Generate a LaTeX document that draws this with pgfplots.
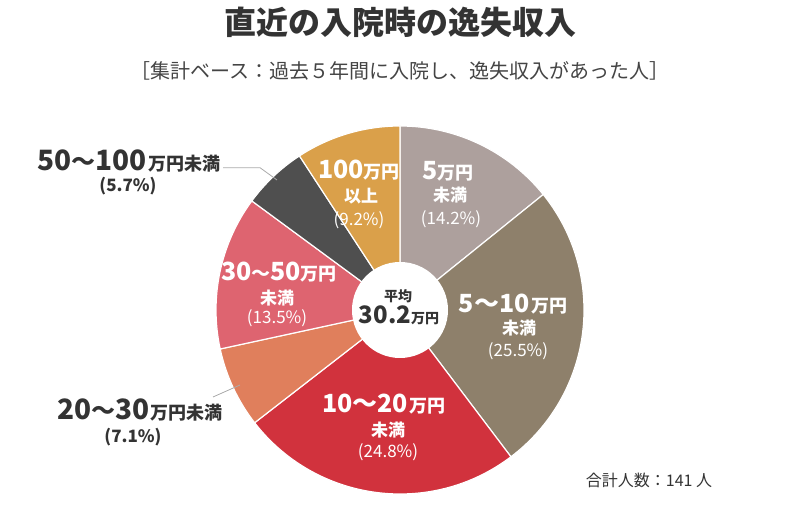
\documentclass[border=0pt]{standalone}
\usepackage{pgfplots}
\pgfplotsset{compat=1.18}
\usepackage{pgfplotstable}
\usepackage{fontspec}
\setmainfont{Noto Sans CJK JP}

\definecolor{pie0}{HTML}{ADA09D}
\definecolor{pie1}{HTML}{8E806B}
\definecolor{pie2}{HTML}{D1323D}
\definecolor{pie3}{HTML}{E07F5C}
\definecolor{pie4}{HTML}{DE6470}
\definecolor{pie5}{HTML}{4F4F4F}
\definecolor{pie6}{HTML}{DAA04A}
\definecolor{txt}{HTML}{333333}
\definecolor{subtxt}{HTML}{444444}
\definecolor{leader}{HTML}{AAAAAA}

\newcommand\fs[2]{{\fontsize{#1}{#1}\selectfont #2}}
\tikzset{lab/.style={inner sep=0pt, anchor=center}}

% share of each income class, clockwise from the top
\pgfplotstableread{
pct
14.2
25.5
24.8
7.1
13.5
5.7
9.2
}\piedata

% start/end angles of the slices
\def\acc{90}
\expandafter\xdef\csname pa0\endcsname{90}
\foreach \i in {0,...,6}{%
  \pgfplotstablegetelem{\i}{pct}\of\piedata
  \pgfmathsetmacro\nx{\acc-3.6*\pgfplotsretval}%
  \pgfmathtruncatemacro\j{\i+1}%
  \expandafter\xdef\csname pa\j\endcsname{\nx}%
  \xdef\acc{\nx}%
}
\newcommand\pa[1]{\csname pa#1\endcsname}

\begin{document}
\begin{tikzpicture}
\begin{axis}[
  hide axis,
  scale only axis,
  width=800pt, height=510pt,
  xmin=0, xmax=800, ymin=0, ymax=510,
  clip=false,
]
\path (axis cs:0,0) rectangle (axis cs:800,510);

\pgfplotsinvokeforeach{0,...,6}{
  \fill[fill=pie#1, draw=white, line width=1.2pt]
    (axis cs:400,200) -- ++(\pa{#1}:184pt)
    arc[start angle=\pa{#1}, end angle=\csname pa\the\numexpr#1+1\relax\endcsname, radius=184pt] -- cycle;
}
\fill[white] (axis cs:400,200) circle[radius=48pt];

% title
\node[lab, txt] at (axis cs:400,488) {\bfseries\fs{32}{直近の入院時の逸失収入}};
\node[lab, subtxt] at (axis cs:400,439) {\fs{20}{［集計ベース：過去５年間に入院し、逸失収入があった人］}};

% inside labels
\node[lab, white] at (axis cs:448,339) {\bfseries\fs{25}{5}\fs{18}{万円}};
\node[lab, white] at (axis cs:450,315) {\bfseries\fs{17}{未満}};
\node[lab, white] at (axis cs:451,291) {\fs{17}{(14.2\%)}};

\node[lab, white] at (axis cs:359,340) {\bfseries\fs{25}{100}\fs{18}{万円}};
\node[lab, white] at (axis cs:361,314) {\bfseries\fs{17}{以上}};
\node[lab, white] at (axis cs:359,290) {\fs{17}{(9.2\%)}};

\node[lab, white] at (axis cs:513,206) {\bfseries\fs{25}{5～10}\,\fs{18}{万円}};
\node[lab, white] at (axis cs:519,182) {\bfseries\fs{17}{未満}};
\node[lab, white] at (axis cs:518,159) {\fs{17}{(25.5\%)}};

\node[lab, white] at (axis cs:384,106) {\bfseries\fs{25}{10～20}\,\fs{18}{万円}};
\node[lab, white] at (axis cs:388,80) {\bfseries\fs{17}{未満}};
\node[lab, white] at (axis cs:388,58) {\fs{17}{(24.8\%)}};

\node[lab, white] at (axis cs:279,238) {\bfseries\fs{25}{30\fs{19}{～}50}\fs{18}{万円}};
\node[lab, white] at (axis cs:277,212) {\bfseries\fs{17}{未満}};
\node[lab, white] at (axis cs:277,192) {\fs{17}{(13.5\%)}};

% centre
\node[lab, txt] at (axis cs:398,214) {\bfseries\fs{14}{平均}};
\node[lab, txt] at (axis cs:399,195) {\bfseries\fs{24}{30.2}\fs{14}{万円}};

% outside labels
\draw[leader, line width=0.8pt] (axis cs:223,342.3) -- (axis cs:260,342.3) -- (axis cs:277,330);
\node[lab, txt] at (axis cs:129,349) {\bfseries\fs{28}{50\fs{24}{～}100}\,\fs{18}{万円未満}};
\node[lab, txt] at (axis cs:128,324) {\bfseries\fs{17}{(5.7\%)}};

\draw[leader, line width=0.8pt] (axis cs:213,113) -- (axis cs:240,125);
\node[lab, txt] at (axis cs:140,100) {\bfseries\fs{28}{20\fs{24}{～}30}\,\fs{18}{万円未満}};
\node[lab, txt] at (axis cs:133,73) {\bfseries\fs{17}{(7.1\%)}};

\node[lab, txt] at (axis cs:649,30) {\fs{16}{合計人数：141 人}};
\end{axis}
\end{tikzpicture}
\end{document}
